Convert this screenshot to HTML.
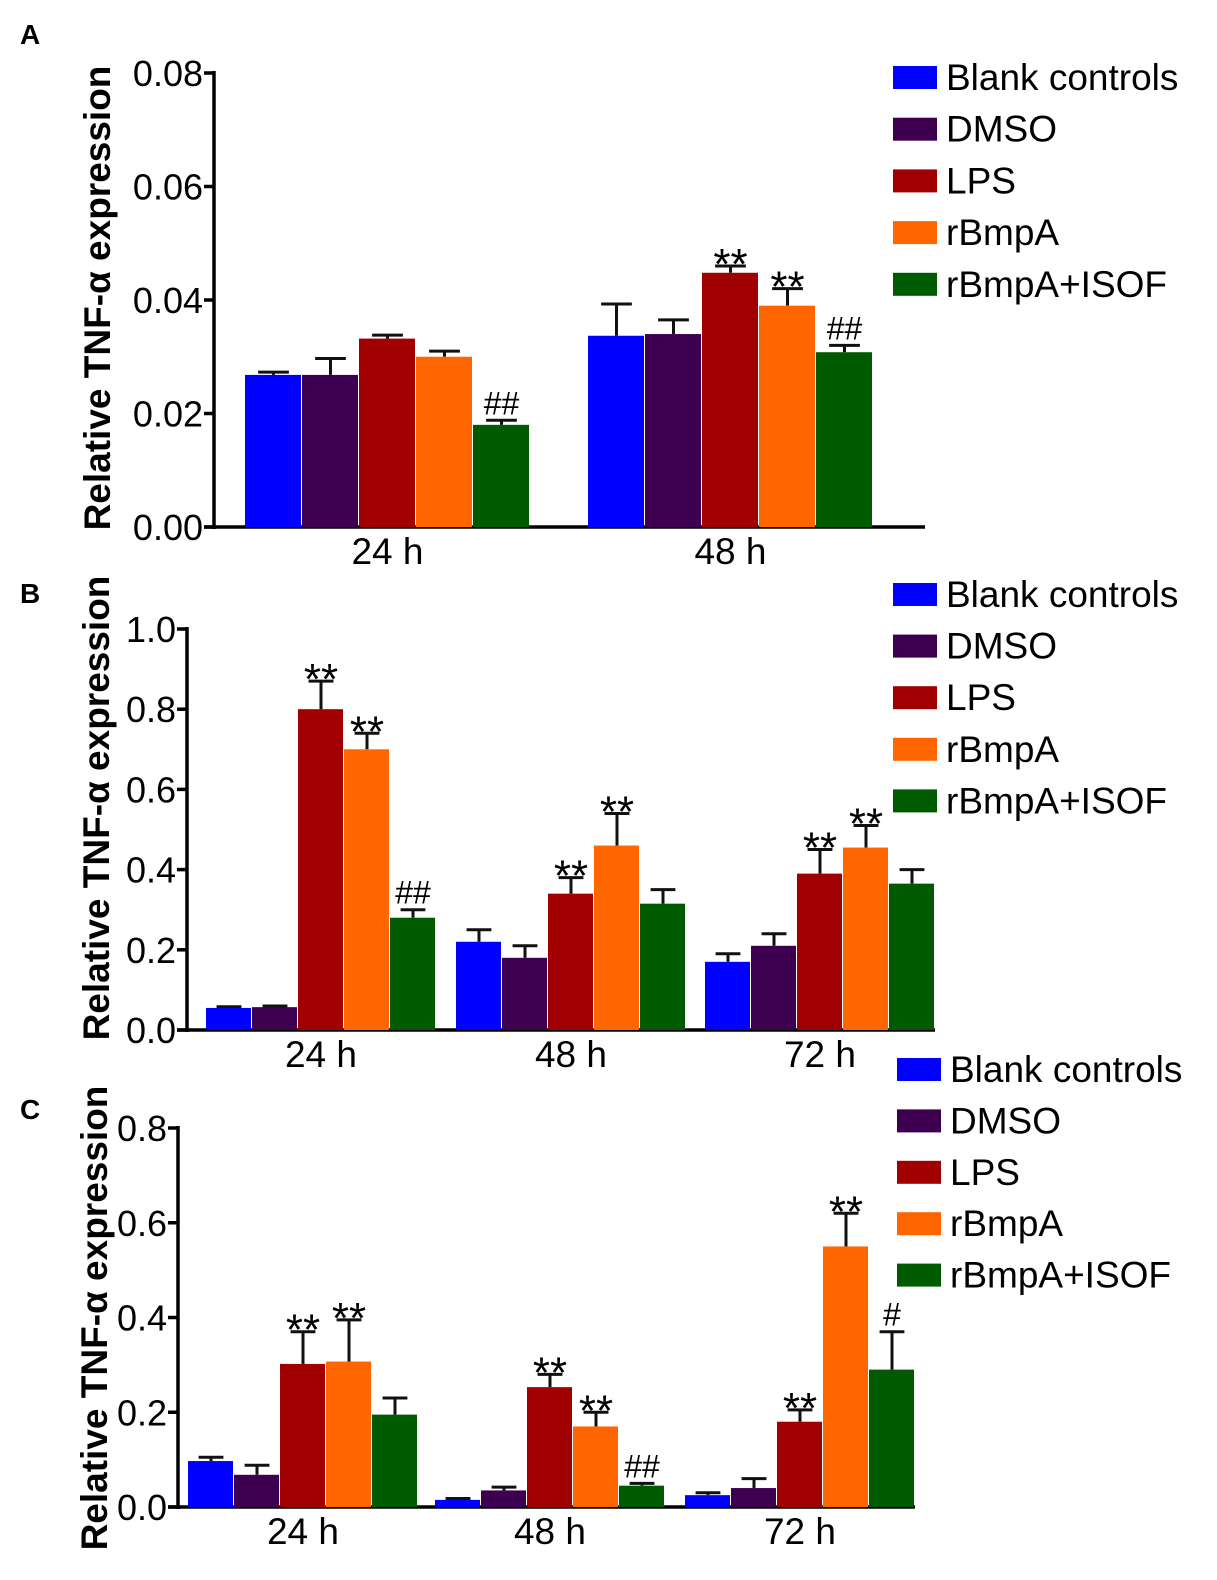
<!DOCTYPE html>
<html><head><meta charset="utf-8"><style>
body{margin:0;background:#fff;}
svg{display:block;font-family:"Liberation Sans",Arial,sans-serif;}
</style></head><body>
<svg id="chart" width="1217" height="1580" viewBox="0 0 1217 1580"></svg>
<script>
const series = ["Blank controls","DMSO","LPS","rBmpA","rBmpA+ISOF"];
const colors = ["#0000ff","#3d0050","#a00000","#ff6600","#005a00"];
// Panel A
const catsA = ["24 h","48 h"];
const valsA = [[0.0268,0.0268,0.0332,0.0300,0.0180],[0.0337,0.0340,0.0448,0.0390,0.0308]];
const errA  = [[0.0273,0.0297,0.0338,0.0310,0.0188],[0.0393,0.0365,0.0460,0.0420,0.0320]];
const annA  = [["","","","","##"],["","","**","**","##"]];
const ticksA = ["0.00","0.02","0.04","0.06","0.08"];
// Panel B
const catsB = ["24 h","48 h","72 h"];
const valsB = [[0.055,0.057,0.80,0.70,0.28],[0.22,0.18,0.34,0.46,0.315],[0.17,0.21,0.39,0.455,0.365]];
const errB  = [[0.058,0.060,0.87,0.74,0.30],[0.25,0.21,0.38,0.54,0.35],[0.19,0.24,0.45,0.51,0.40]];
const annB  = [["","","**","**","##"],["","","**","**",""],["","","**","**",""]];
const ticksB = ["0.0","0.2","0.4","0.6","0.8","1.0"];
// Panel C
const catsC = ["24 h","48 h","72 h"];
const valsC = [[0.097,0.068,0.302,0.307,0.195],[0.015,0.035,0.253,0.170,0.045],[0.025,0.040,0.180,0.550,0.290]];
const errC  = [[0.105,0.088,0.370,0.395,0.230],[0.018,0.042,0.280,0.200,0.050],[0.030,0.060,0.205,0.620,0.370]];
const annC  = [["","","**","**",""],["","","**","**","##"],["","","**","**","#"]];
const ticksC = ["0.0","0.2","0.4","0.6","0.8"];

const svg = document.getElementById('chart');
const NS = "http://www.w3.org/2000/svg";
function mk(tag, attrs, parent, text){
  const e = document.createElementNS(NS, tag);
  for (const k in attrs) e.setAttribute(k, attrs[k]);
  if (text !== undefined) e.textContent = text;
  (parent||svg).appendChild(e);
  return e;
}

function panel(cfg){
  const g = mk('g', {});
  
  
  const ymax = cfg.ymax;
  const yS = v => cfg.y0 - (v / ymax) * (cfg.y0 - cfg.yTop);
  const lt = mk('text', {x: cfg.letterX, y: cfg.letterY, 'font-size': 28, 'font-weight': 'bold'}, g, cfg.id);
  
  
  const ya = mk('line', {x1: cfg.ax, y1: cfg.yTop - 2, x2: cfg.ax, y2: cfg.y0 + 2, stroke: '#000', 'stroke-width': 3.5}, g);
  
  
  const n = cfg.ticks.length;
  cfg.ticks.forEach((t, i) => {
    const v = ymax * i / (n - 1);
    const y = yS(v);
    mk('line', {x1: cfg.ax - 10, y1: y, x2: cfg.ax, y2: y, stroke: '#000', 'stroke-width': 3.5}, g);
    const tl = mk('text', {x: cfg.ax - 11, y: y + 13, 'font-size': 36, 'text-anchor': 'end'}, g, t);
    
    
  });
  const xa = mk('line', {x1: cfg.ax - 10, y1: cfg.y0, x2: cfg.axEnd, y2: cfg.y0, stroke: '#000', 'stroke-width': 3.5}, g);
  
  
  const yt = mk('text', {x: 0, y: 0, 'font-size': 37, 'font-weight': 'bold', 'text-anchor': 'middle',
    transform: `translate(${cfg.titleX},${cfg.titleY}) rotate(-90)`}, g, 'Relative TNF-α expression');
  
  
  cfg.cats.forEach((c, gi) => {
    const gx = cfg.groupX[gi];
    cfg.vals[gi].forEach((v, si) => {
      const x = gx + si * cfg.bw;
      const y = yS(v);
      const ey = yS(cfg.err[gi][si]);
      const cx = x + cfg.bw / 2;
      mk('line', {x1: cx, y1: ey, x2: cx, y2: y, stroke: '#111', 'stroke-width': 3}, g);
      mk('line', {x1: cx - cfg.bw * 0.27, y1: ey, x2: cx + cfg.bw * 0.27, y2: ey, stroke: '#111', 'stroke-width': 3}, g);
      const r = mk('rect', {x: x, y: y, width: cfg.bw - 1, height: cfg.y0 - y, fill: colors[si]}, g);
      
      
      const a = cfg.ann[gi][si];
      if (a) {
        const star = a[0] === '*';
        const at = mk('text', {x: cx, y: ey - 6 + (star ? 19 : 0), 'font-size': star ? 44 : 32, 'text-anchor': 'middle'}, g, a);
        
        
      }
    });
    const lx = gx + cfg.bw * 2.5;
    const xl = mk('text', {x: lx, y: cfg.y0 + 37, 'font-size': 37, 'text-anchor': 'middle'}, g, c);
    
    
  });
  series.forEach((s, i) => {
    const y = cfg.legY + i * cfg.legStep;
    const lg = mk('g', {}, g);
    
    
    mk('rect', {x: cfg.legX, y: y - 11, width: 44, height: 23, fill: colors[i]}, lg);
    mk('text', {x: cfg.legX + 53, y: y + 13, 'font-size': 37}, lg, s);
  });
}

panel({id:'A', cats:catsA, vals:valsA, err:errA, ann:annA, ticks:ticksA, ymax:0.08,
  ax:214, axEnd:925, y0:527, yTop:73, groupX:[245,588], bw:57,
  titleX:110, titleY:298, letterX:20, letterY:44, legX:893, legY:77, legStep:51.7});
panel({id:'B', cats:catsB, vals:valsB, err:errB, ann:annB, ticks:ticksB, ymax:1.0,
  ax:187, axEnd:935, y0:1030, yTop:629, groupX:[206,456,705], bw:46,
  titleX:109, titleY:808, letterX:20, letterY:603, legX:893, legY:594, legStep:51.6});
panel({id:'C', cats:catsC, vals:valsC, err:errC, ann:annC, ticks:ticksC, ymax:0.8,
  ax:178, axEnd:915, y0:1507, yTop:1128, groupX:[188,435,685], bw:46,
  titleX:107, titleY:1318, letterX:20, letterY:1119, legX:897, legY:1069, legStep:51.4});
</script>
</body></html>
